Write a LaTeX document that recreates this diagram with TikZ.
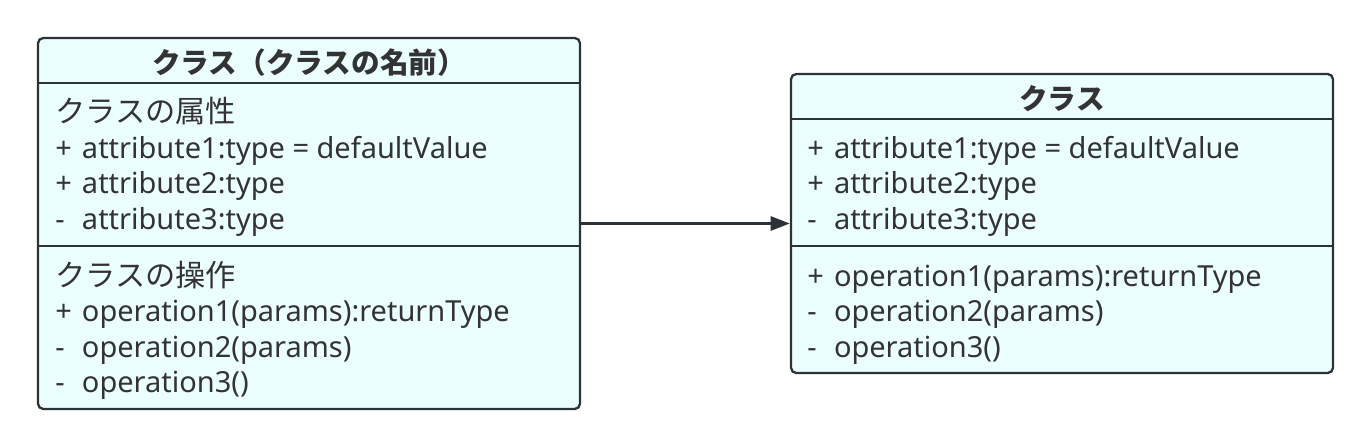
\documentclass[tikz,border=0pt]{standalone}
\usepackage{fontspec}
\setmainfont{Noto Sans}
\newfontfamily\jpfont{Noto Sans CJK JP}
\usepackage{tikz}
\usetikzlibrary{arrows.meta, positioning}
\definecolor{umlline}{RGB}{45,50,56}
\definecolor{umlfill}{RGB}{236,255,255}
\definecolor{umltext}{RGB}{51,51,51}
\newcommand{\vis}[1]{\makebox[0.92em][l]{#1}}
\tikzset{
  classbox/.style={rectangle, draw=umlline, fill=umlfill, line width=1.3pt,
    rounded corners=3pt, minimum width=542*0.02cm, inner sep=0pt},
  title/.style={anchor=base, font=\jpfont\fontsize{16.3}{19}\selectfont\bfseries,
    text=umltext, inner sep=0pt},
  member/.style={anchor=base west, font=\fontsize{16.5}{19}\selectfont,
    text=umltext, inner sep=0pt},
  jpmember/.style={member, font=\jpfont\fontsize{17.2}{19}\selectfont},
  divider/.style={line width=1.3pt, color=umlline},
  arrow/.style={-{Triangle[length=11pt, width=8pt]}, line width=1.7pt, color=umlline}
}
\begin{document}
\begin{tikzpicture}[x=0.02cm, y=-0.02cm]
  \useasboundingbox (0,0) rectangle (1370,447);

  % Left class
  \node[classbox, minimum height=371*0.02cm] (cls1) at (309,223.5) {};
  \node[title] (name1) at (309,73.5) {クラス（クラスの名前）};
  \draw[divider] (cls1.west |- 0,83) -- (cls1.east |- 0,83);
  \node[jpmember] (a0) at (55,122.5) {クラスの属性};
  \node[member] (a1) at (55,158) {\vis{+}attribute1:type = defaultValue};
  \node[member] (a2) at (55,193.5) {\vis{+}attribute2:type};
  \node[member] (a3) at (55,229) {\vis{-}attribute3:type};
  \draw[divider] (cls1.west |- 0,246) -- (cls1.east |- 0,246);
  \node[jpmember] (o0) at (55,286) {クラスの操作};
  \node[member] (o1) at (55,321.5) {\vis{+}operation1(params):returnType};
  \node[member] (o2) at (55,357) {\vis{-}operation2(params)};
  \node[member] (o3) at (55,392.5) {\vis{-}operation3()};

  % Right class
  \node[classbox, minimum height=299*0.02cm] (cls2) at (1062,223.5) {};
  \node[title] (name2) at (1062,109.5) {クラス};
  \draw[divider] (cls2.west |- 0,119) -- (cls2.east |- 0,119);
  \node[member] (b1) at (807,158) {\vis{+}attribute1:type = defaultValue};
  \node[member] (b2) at (807,193.5) {\vis{+}attribute2:type};
  \node[member] (b3) at (807,229) {\vis{-}attribute3:type};
  \draw[divider] (cls2.west |- 0,246) -- (cls2.east |- 0,246);
  \node[member] (p1) at (807,286) {\vis{+}operation1(params):returnType};
  \node[member] (p2) at (807,321.5) {\vis{-}operation2(params)};
  \node[member] (p3) at (807,357) {\vis{-}operation3()};

  % Association
  \draw[arrow] (cls1) -- (cls2);
\end{tikzpicture}
\end{document}
